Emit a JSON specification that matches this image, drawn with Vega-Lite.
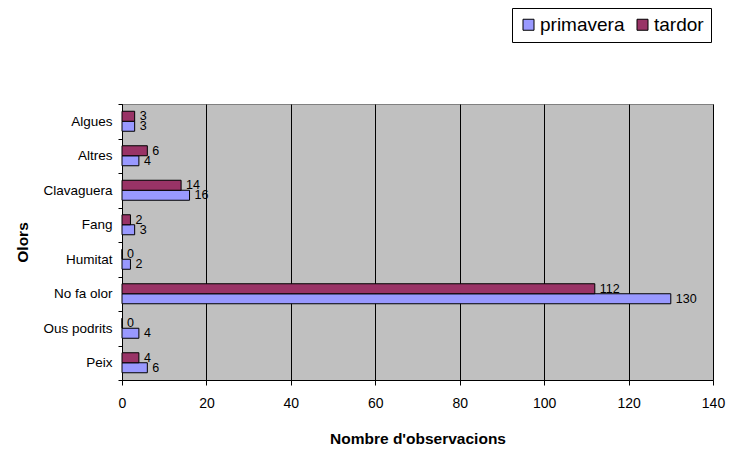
{
  "$schema": "https://vega.github.io/schema/vega-lite/v6.json",
  "autosize": {"type": "none"},
  "width": 591,
  "height": 276,
  "padding": {"left": 122, "top": 104, "right": 27, "bottom": 90},
  "background": "white",
  "config": {
    "font": "Liberation Sans",
    "view": {"fill": "#C0C0C0", "stroke": "#808080", "strokeWidth": 1}
  },
  "data": {
    "values": [
      {"olor": "Algues", "estacio": "primavera", "n": 3},
      {"olor": "Algues", "estacio": "tardor", "n": 3},
      {"olor": "Altres", "estacio": "primavera", "n": 4},
      {"olor": "Altres", "estacio": "tardor", "n": 6},
      {"olor": "Clavaguera", "estacio": "primavera", "n": 16},
      {"olor": "Clavaguera", "estacio": "tardor", "n": 14},
      {"olor": "Fang", "estacio": "primavera", "n": 3},
      {"olor": "Fang", "estacio": "tardor", "n": 2},
      {"olor": "Humitat", "estacio": "primavera", "n": 2},
      {"olor": "Humitat", "estacio": "tardor", "n": 0},
      {"olor": "No fa olor", "estacio": "primavera", "n": 130},
      {"olor": "No fa olor", "estacio": "tardor", "n": 112},
      {"olor": "Ous podrits", "estacio": "primavera", "n": 4},
      {"olor": "Ous podrits", "estacio": "tardor", "n": 0},
      {"olor": "Peix", "estacio": "primavera", "n": 6},
      {"olor": "Peix", "estacio": "tardor", "n": 4}
    ]
  },
  "encoding": {
    "y": {
      "field": "olor", "type": "nominal",
      "sort": ["Algues", "Altres", "Clavaguera", "Fang", "Humitat", "No fa olor", "Ous podrits", "Peix"],
      "scale": {"paddingInner": 0, "paddingOuter": 0},
      "axis": {
        "title": "Olors", "titleFont": "Liberation Sans", "titleFontSize": 15.5, "titleFontWeight": "bold",
        "titleColor": "black", "titlePadding": 12,
        "labelFont": "Liberation Sans", "labelFontSize": 13.5, "labelColor": "black", "labelPadding": 6,
        "domainColor": "black", "tickColor": "black", "tickSize": 4, "tickBand": "extent",
        "grid": false
      }
    },
    "yOffset": {
      "field": "estacio", "type": "nominal",
      "sort": ["tardor", "primavera"],
      "scale": {"paddingInner": 0, "paddingOuter": 0.725}
    },
    "x": {
      "field": "n", "type": "quantitative",
      "scale": {"domain": [0, 140], "nice": false},
      "axis": {
        "title": "Nombre d'observacions", "titleFont": "Liberation Sans", "titleFontSize": 15.5, "titleFontWeight": "bold",
        "titleColor": "black", "titlePadding": 21,
        "values": [0, 20, 40, 60, 80, 100, 120, 140],
        "labelFont": "Liberation Sans", "labelFontSize": 14, "labelColor": "black", "labelPadding": 11,
        "labelFlush": false,
        "domainColor": "black", "tickColor": "black", "tickSize": 5,
        "grid": true, "gridColor": "black", "gridOpacity": 1, "gridWidth": 1
      }
    }
  },
  "layer": [
    {
      "mark": {"type": "bar", "stroke": "black", "strokeWidth": 1},
      "encoding": {
        "color": {
          "field": "estacio", "type": "nominal",
          "scale": {"domain": ["primavera", "tardor"], "range": ["#9999FF", "#993366"]},
          "legend": {
            "title": null, "orient": "none", "legendX": 390, "legendY": -96,
            "direction": "horizontal", "symbolType": "square", "symbolSize": 121,
            "symbolStrokeColor": "black", "symbolStrokeWidth": 1,
            "labelFont": "Liberation Sans", "labelFontSize": 19, "labelColor": "black",
            "labelOffset": 2, "columnPadding": 8,
            "strokeColor": "black", "fillColor": "white", "padding": 7
          }
        }
      }
    },
    {
      "mark": {"type": "text", "align": "left", "baseline": "middle", "dx": 5, "fontSize": 12.5, "font": "Liberation Sans", "color": "black"},
      "encoding": {
        "text": {"field": "n", "type": "quantitative"}
      }
    }
  ]
}
